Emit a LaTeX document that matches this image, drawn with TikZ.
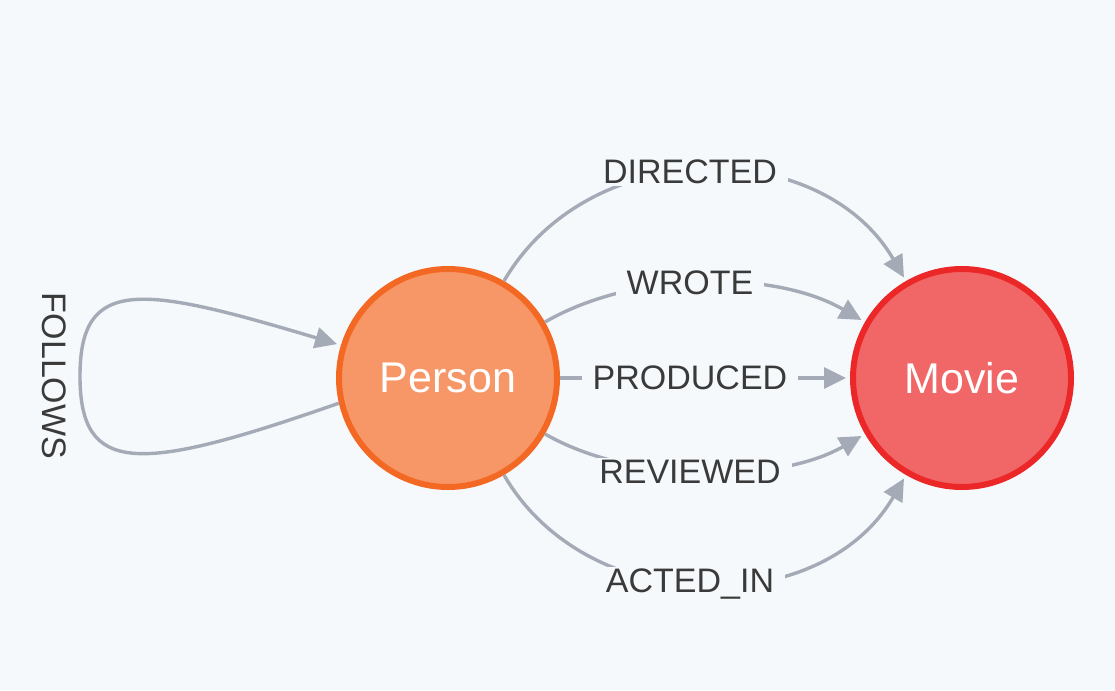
\documentclass[tikz,border=0pt]{standalone}
\usepackage{fontspec}
\setmainfont{Liberation Sans}
\definecolor{CanvasBg}{HTML}{F6F9FC}
\definecolor{PersonFill}{HTML}{F79767}
\definecolor{PersonLine}{HTML}{F36924}
\definecolor{MovieFill}{HTML}{F16667}
\definecolor{MovieLine}{HTML}{EB2728}
\definecolor{RelGray}{HTML}{A5ABB6}
\definecolor{RelText}{HTML}{3A3A3A}
\usetikzlibrary{arrows.meta,positioning}

\begin{document}
\begin{tikzpicture}[
    x=1pt, y=-1pt,
    entity/.style={circle, line width=6pt, minimum size=218pt, inner sep=0pt,
                   text=white, font=\fontsize{43}{48}\selectfont},
    rel/.style={-{Triangle[length=22pt,width=21pt]}, line width=3.4pt, RelGray,
                shorten >=4pt},
    rellabel/.style={fill=CanvasBg, text=RelText, inner xsep=11pt, inner ysep=2pt,
                     xshift=-15pt, font=\fontsize{34}{40}\selectfont}
]

\fill[CanvasBg] (0,0) rectangle (1115,690);
\useasboundingbox (0,0) rectangle (1115,690);

\node[entity, draw=PersonLine, fill=PersonFill] (person) at (448,378) {Person};
\node[entity, draw=MovieLine, fill=MovieFill] (movie) at (962,378) {Movie};
\coordinate (loopturn) at (80,376);

\draw[rel] (person.60) .. controls +(85,-146) and +(-85,-146) .. node[rellabel] {DIRECTED} (movie.120);
\draw[rel] (person.30) .. controls +(90,-52) and +(-90,-52) .. node[rellabel] {WROTE} (movie.150);
\draw[rel] (person) -- node[rellabel] {PRODUCED} (movie);
\draw[rel] (person.-30) .. controls +(87,50) and +(-87,50) .. node[rellabel] {REVIEWED} (movie.-150);
\draw[rel] (person.-60) .. controls +(84,145) and +(-84,145) .. node[rellabel] {ACTED\_IN} (movie.-120);

\draw[rel] (person.193) .. controls +(-200,70) and +(0,100) .. (loopturn)
    .. controls +(0,-100) and +(-200,-60) .. (person.163);
\node[rotate=-90, anchor=north, inner xsep=0pt, inner ysep=14pt, text=RelText,
      font=\fontsize{34}{40}\selectfont] (followslabel) at (loopturn) {FOLLOWS};

\end{tikzpicture}
\end{document}
